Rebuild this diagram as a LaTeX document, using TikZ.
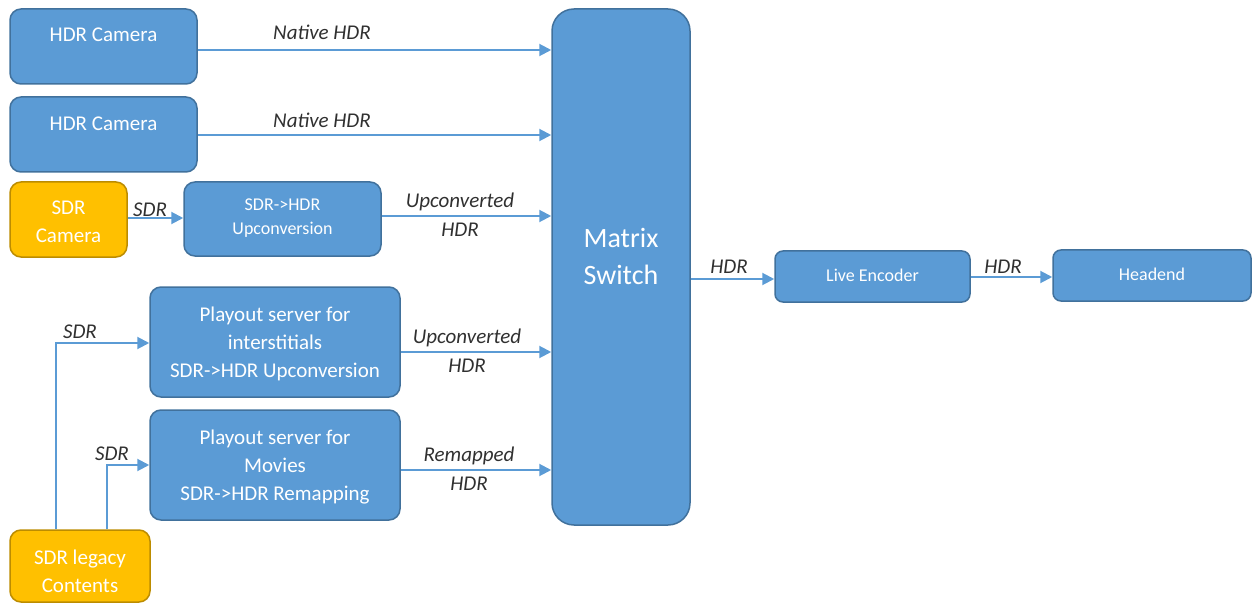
\documentclass[tikz,border=0pt]{standalone}
\usepackage{fontspec}
\setmainfont{Carlito}
\usetikzlibrary{arrows.meta}
\definecolor{boxblue}{HTML}{5B9BD5}
\definecolor{boxedge}{HTML}{41719C}
\definecolor{boxorange}{HTML}{FFC000}
\definecolor{orangeedge}{HTML}{BC8C00}
\definecolor{linkblue}{HTML}{5B9BD5}
\definecolor{labelgray}{HTML}{303030}
\begin{document}
\begin{tikzpicture}[x=1pt,y=-1pt,
  bluebox/.style={draw=boxedge, fill=boxblue, line width=1.5pt, rounded corners=11pt,
    text=white, align=center, inner sep=0pt, font=\fontsize{21}{28}\selectfont},
  orangebox/.style={bluebox, draw=orangeedge, fill=boxorange},
  smallbox/.style={bluebox, font=\fontsize{18}{24}\selectfont},
  boxtext/.style={text=white, align=center, inner sep=0pt, font=\fontsize{21}{28}\selectfont},
  arr/.style={draw=linkblue, line width=2pt, -{Triangle[length=12pt,width=12pt]}},
  lbl/.style={text=labelgray, inner sep=0pt, font=\fontsize{21}{28}\selectfont\itshape}]
\useasboundingbox (0,0) rectangle (1253,604);

% boxes
\node[bluebox, minimum width=187pt, minimum height=75pt] (cam1) at (103.5,46.5) {};
\node[boxtext] (cam1t) at (103.5,35) {HDR Camera};
\node[bluebox, minimum width=187pt, minimum height=75pt] (cam2) at (103.5,134.5) {};
\node[boxtext] (cam2t) at (103.5,124) {HDR Camera};
\node[orangebox, minimum width=117pt, minimum height=75pt] (sdrcam) at (68.5,219.5) {};
\node[boxtext] (sdrcamt) at (68.5,222) {SDR\\Camera};
\node[smallbox, minimum width=197pt, minimum height=74pt] (upc) at (282.5,219) {};
\node[boxtext, font=\fontsize{18}{24}\selectfont] (upct) at (282.5,218.5) {SDR->HDR\\Upconversion};
\node[bluebox, minimum width=138pt, minimum height=516pt, rounded corners=22pt] (matrix) at (621,267) {};
\node[boxtext, font=\fontsize{28}{37}\selectfont] (matrixt) at (621,256.5) {Matrix\\Switch};
\node[smallbox, minimum width=195pt, minimum height=51pt, rounded corners=8pt] (live) at (872.5,276.5) {};
\node[boxtext, font=\fontsize{18}{24}\selectfont] (livet) at (872.5,275.5) {Live Encoder};
\node[smallbox, minimum width=198pt, minimum height=51pt, rounded corners=8pt] (head) at (1152,275.5) {};
\node[boxtext, font=\fontsize{18}{24}\selectfont] (headt) at (1152,274.5) {Headend};
\node[bluebox, minimum width=250pt, minimum height=110pt] (play1) at (275,342) {};
\node[boxtext] (play1t) at (275,344) {Playout server for\\interstitials\\SDR->HDR Upconversion};
\node[bluebox, minimum width=250pt, minimum height=110pt] (play2) at (275,465) {};
\node[boxtext] (play2t) at (275,467) {Playout server for\\Movies\\SDR->HDR Remapping};
\node[orangebox, minimum width=140pt, minimum height=72pt] (legacy) at (80,566) {};
\node[boxtext] (legacyt) at (80,571) {SDR legacy\\Contents};

% connectors
\draw[arr] (cam1.east |- 0,50) -- (matrix.west |- 0,50);
\draw[arr] (cam2.east |- 0,135) -- (matrix.west |- 0,135);
\draw[arr] (sdrcam.east |- 0,218) -- (upc.west |- 0,218);
\draw[arr] (upc.east |- 0,216) -- (matrix.west |- 0,216);
\draw[arr] (play1.east |- 0,352) -- (matrix.west |- 0,352);
\draw[arr] (play2.east |- 0,470) -- (matrix.west |- 0,470);
\draw[arr] (matrix.east |- 0,279) -- (live.west |- 0,279);
\draw[arr] (live.east |- 0,277) -- (head.west |- 0,277);
\draw[arr] (legacy.north -| 56,0) |- (play1.west |- 0,343);
\draw[arr] (legacy.north -| 107,0) |- (play2.west |- 0,465);

% labels
\node[lbl] (l1) at (322,32) {Native HDR};
\node[lbl] (l2) at (322,120) {Native HDR};
\node[lbl] (l3) at (150,210) {SDR};
\node[lbl] (l4) at (460,202) {Upconverted};
\node[lbl] (l4b) at (460,230) {HDR};
\node[lbl] (l5) at (80,332) {SDR};
\node[lbl] (l6) at (467,338) {Upconverted};
\node[lbl] (l6b) at (467,366) {HDR};
\node[lbl] (l7) at (112,454) {SDR};
\node[lbl] (l8) at (469,456) {Remapped};
\node[lbl] (l8b) at (469,484) {HDR};
\node[lbl] (l9) at (729,267) {HDR};
\node[lbl] (l10) at (1003,267) {HDR};
\end{tikzpicture}
\end{document}
